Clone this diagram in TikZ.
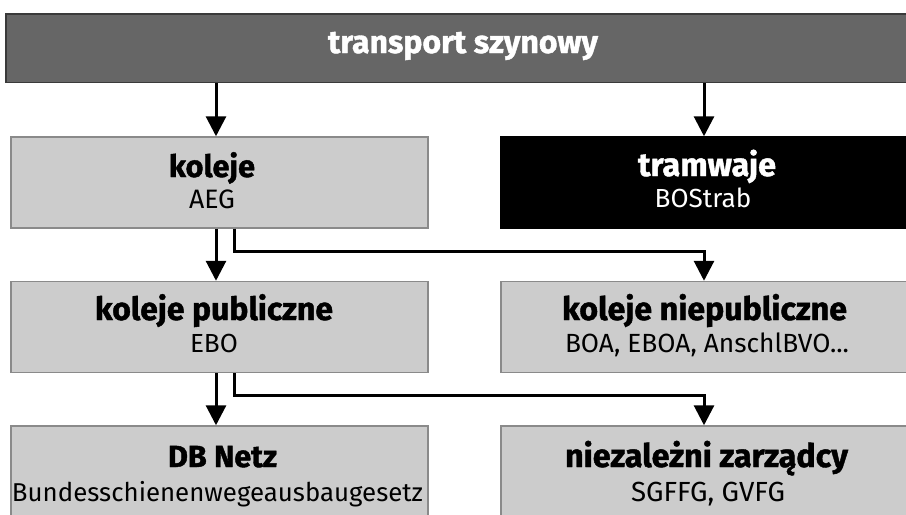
\documentclass[tikz,border=0pt]{standalone}
\usepackage{fontspec}
\setmainfont{Fira Sans}[BoldFeatures={FakeBold=1.3}]
\usetikzlibrary{arrows.meta,calc}
\definecolor{barfill}{HTML}{666666}
\definecolor{barline}{HTML}{3A3A3A}
\definecolor{boxfill}{HTML}{CCCCCC}
\definecolor{boxline}{HTML}{8A8A8A}
\newlength\fitlen
\newcommand\fitto[3]{\settowidth\fitlen{\fontsize{10}{12}\selectfont#2#3}%
  \pgfmathsetmacro\fitfs{10*#1/\fitlen}%
  \fontsize{\fitfs pt}{\fitfs pt}\selectfont#2#3}
\begin{document}
\begin{tikzpicture}[x=0.75pt,y=-0.75pt,
  box/.style={draw=boxline, line width=1.1pt, fill=boxfill, inner sep=0pt, minimum height=68.25pt},
  leftbox/.style={box, minimum width=312.75pt},
  rightbox/.style={box, minimum width=321.75pt},
  darkbox/.style={rightbox, draw=black, fill=black},
  topbar/.style={draw=barline, line width=1.1pt, fill=barfill, inner sep=0pt, minimum width=693pt, minimum height=51.375pt},
  txt/.style={anchor=base, inner sep=0pt},
  arr/.style={line width=2.25pt, -{Triangle[length=15pt,width=15pt]}}
]
\useasboundingbox (0,0) rectangle (906,514);
\clip (0,0) rectangle (906,514);
\fill[white] (0,0) rectangle (906,514);

% boxes
\node[topbar] (top) at (468,48.25) {};
\node[leftbox] (kol) at (219.5,182.5) {};
\node[darkbox] (tram) at (715.5,182.5) {};
\node[leftbox] (pub) at (219.5,327) {};
\node[rightbox] (npub) at (715.5,327) {};
\node[leftbox] (db) at (219.5,471.5) {};
\node[rightbox] (niez) at (715.5,471.5) {};

% texts
\node[txt, white] (ttop) at (463,53) {\fitto{202.5}{\bfseries}{transport szynowy}};
\node[txt] (tkol) at (212,177) {\fitto{64.5}{\bfseries}{koleje}};
\node[txt] (skol) at (212,208) {\fitto{34.5}{}{AEG}};
\node[txt, white] (ttram) at (707,176) {\fitto{103.5}{\bfseries}{tramwaje}};
\node[txt, white] (stram) at (703,207) {\fitto{72.5}{}{BOStrab}};
\node[txt] (tpub) at (214,320) {\fitto{178.5}{\bfseries}{koleje publiczne}};
\node[txt] (spub) at (214,352.7) {\fitto{36}{}{EBO}};
\node[txt] (tnpub) at (704.5,320) {\fitto{213.75}{\bfseries}{koleje niepubliczne}};
\node[txt] (snpub) at (707,352.7) {\fitto{213}{}{BOA, EBOA, AnschlBVO...}};
\node[txt] (tdb) at (222.5,467) {\fitto{81.75}{\bfseries}{DB Netz}};
\node[txt] (sdb) at (217.5,501) {\fitto{308.25}{}{Bundesschienenwegeausbaugesetz}};
\node[txt] (tniez) at (706.5,467) {\fitto{212.25}{\bfseries}{niezależni zarządcy}};
\node[txt] (sniez) at (708,501) {\fitto{115.5}{}{SGFFG, GVFG}};

% column coordinates
\coordinate (cL) at (216,0);
\coordinate (cB) at (234,0);
\coordinate (cR) at (704,0);

% connectors
\draw[arr] (top.south -| cL) -- (kol.north -| cL);
\draw[arr] (top.south -| cR) -- (tram.north -| cR);
\draw[arr] (kol.south -| cL) -- (pub.north -| cL);
\draw[arr] (kol.south -| cB) -- ++(0,22.7) -| (npub.north -| cR);
\draw[arr] (pub.south -| cL) -- (db.north -| cL);
\draw[arr] (pub.south -| cB) -- ++(0,22) -| (niez.north -| cR);
\end{tikzpicture}
\end{document}
